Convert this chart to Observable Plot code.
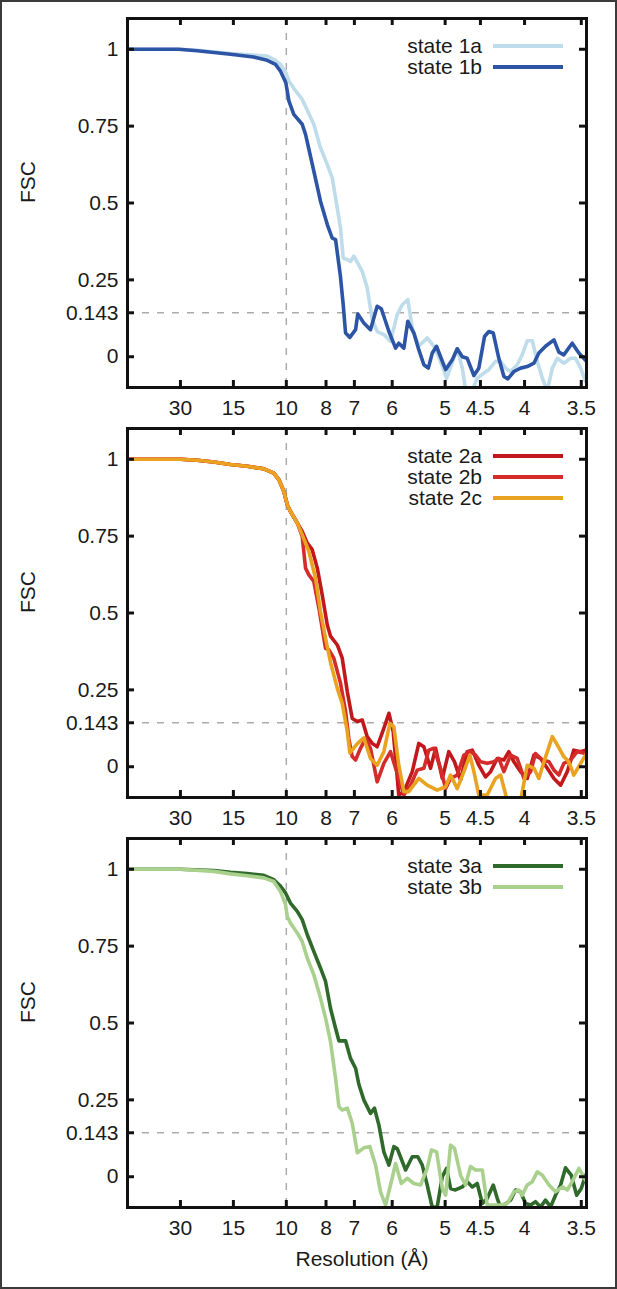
<!DOCTYPE html>
<html>
<head>
<meta charset="utf-8">
<script src="https://cdn.jsdelivr.net/npm/d3@7"></script>
<script src="https://cdn.jsdelivr.net/npm/@observablehq/plot@0.6"></script>
<style>
  html, body { margin: 0; padding: 0; background: #fff; }
  #root { position: relative; width: 617px; height: 1289px; overflow: hidden; background: #fff; font-family: "Liberation Sans", Arial, sans-serif; }
  #border { position: absolute; left: 0; top: 0; width: 617px; height: 1289px; box-sizing: border-box; border: 2px solid #3a3a3a; pointer-events: none; }
  .panel { position: relative; width: 617px; }
  .panel svg { display: block; overflow: visible !important; }
</style>
</head>
<body>
<div id="root"><div id="border"></div></div>
<script>
// ---- data: [spatial frequency (1/Å), FSC] ----
const state1a = [[0,1.0],[0.0334,1.0],[0.0439,0.997],[0.0649,0.986],[0.0793,0.981],[0.0880,0.978],[0.0932,0.964],[0.0963,0.951],[0.0997,0.924],[0.1016,0.897],[0.1047,0.873],[0.1100,0.837],[0.1173,0.756],[0.1215,0.680],[0.1258,0.625],[0.1289,0.582],[0.1310,0.517],[0.1341,0.419],[0.1358,0.321],[0.1384,0.316],[0.1404,0.310],[0.1425,0.327],[0.1478,0.278],[0.1509,0.224],[0.1541,0.121],[0.1572,0.082],[0.1614,0.072],[0.1656,0.050],[0.1698,0.137],[0.1730,0.169],[0.1765,0.186],[0.1793,0.093],[0.1834,0.034],[0.1887,0.061],[0.1929,0.034],[0.1971,-0.015],[0.2009,-0.070],[0.2051,-0.010],[0.2076,0.026],[0.2108,-0.037],[0.2128,-0.105],[0.2171,-0.110],[0.2202,-0.070],[0.2244,-0.053],[0.2275,-0.042],[0.2317,-0.015],[0.2349,-0.015],[0.2380,-0.037],[0.2412,-0.048],[0.2454,-0.026],[0.2485,0.006],[0.2517,0.052],[0.2549,0.052],[0.2580,-0.015],[0.2612,-0.070],[0.2643,-0.110],[0.2675,-0.037],[0.2706,-0.005],[0.2747,-0.021],[0.2790,-0.005],[0.2821,-0.005],[0.2853,-0.037],[0.2884,-0.080]];

const state1b = [[0,1.0],[0.0321,1.0],[0.0439,0.995],[0.0649,0.984],[0.0793,0.975],[0.0880,0.964],[0.0932,0.951],[0.0963,0.929],[0.0997,0.891],[0.1016,0.832],[0.1047,0.788],[0.1100,0.756],[0.1121,0.723],[0.1173,0.604],[0.1215,0.506],[0.1258,0.430],[0.1289,0.386],[0.1310,0.381],[0.1341,0.260],[0.1358,0.170],[0.1373,0.077],[0.1400,0.063],[0.1436,0.088],[0.1450,0.139],[0.1488,0.110],[0.1530,0.088],[0.1572,0.164],[0.1598,0.156],[0.1646,0.082],[0.1688,0.028],[0.1708,0.044],[0.1740,0.028],[0.1765,0.115],[0.1803,0.077],[0.1834,0.023],[0.1866,-0.026],[0.1894,-0.037],[0.1919,0.012],[0.1946,0.034],[0.1971,0.000],[0.2003,-0.042],[0.2045,-0.010],[0.2076,0.026],[0.2108,0.000],[0.2139,-0.005],[0.2181,-0.061],[0.2212,-0.037],[0.2248,0.066],[0.2275,0.082],[0.2303,0.077],[0.2338,-0.005],[0.2370,-0.064],[0.2395,-0.072],[0.2433,-0.048],[0.2475,-0.037],[0.2517,-0.032],[0.2559,-0.021],[0.2590,0.012],[0.2632,0.034],[0.2685,0.055],[0.2716,0.015],[0.2747,0.006],[0.2800,0.044],[0.2842,0.012],[0.2890,-0.015]];

const state2a = [[0,1.0],[0.0334,1.0],[0.0439,0.997],[0.0543,0.991],[0.0649,0.983],[0.0754,0.977],[0.0858,0.969],[0.0921,0.955],[0.0953,0.934],[0.0984,0.896],[0.1006,0.852],[0.1026,0.830],[0.1069,0.793],[0.1100,0.765],[0.1132,0.727],[0.1163,0.706],[0.1195,0.646],[0.1226,0.559],[0.1258,0.461],[0.1278,0.425],[0.1321,0.396],[0.1352,0.353],[0.1384,0.244],[0.1415,0.157],[0.1447,0.147],[0.1478,0.152],[0.1509,0.098],[0.1541,0.076],[0.1572,0.065],[0.1614,0.125],[0.1646,0.174],[0.1673,0.114],[0.1708,-0.092],[0.1740,-0.081],[0.1793,-0.016],[0.1834,0.076],[0.1866,0.065],[0.1908,-0.005],[0.1940,0.060],[0.1982,-0.038],[0.2023,0.049],[0.2059,0.016],[0.2097,-0.043],[0.2139,0.049],[0.2171,0.054],[0.2212,0.005],[0.2254,-0.033],[0.2286,-0.016],[0.2328,0.027],[0.2370,0.022],[0.2401,0.049],[0.2433,0.016],[0.2475,-0.016],[0.2517,-0.038],[0.2559,0.038],[0.2601,0.027],[0.2643,-0.005],[0.2685,-0.038],[0.2727,-0.060],[0.2769,-0.016],[0.2810,0.054],[0.2853,0.049],[0.2884,0.054]];

const state2b = [[0,1.0],[0.0334,1.0],[0.0439,0.997],[0.0543,0.991],[0.0649,0.983],[0.0754,0.977],[0.0858,0.969],[0.0921,0.955],[0.0953,0.934],[0.0984,0.896],[0.1006,0.852],[0.1026,0.830],[0.1069,0.793],[0.1100,0.749],[0.1121,0.646],[0.1142,0.624],[0.1173,0.603],[0.1205,0.516],[0.1247,0.385],[0.1268,0.380],[0.1299,0.353],[0.1341,0.272],[0.1373,0.180],[0.1394,0.090],[0.1415,0.033],[0.1436,0.022],[0.1467,0.060],[0.1499,0.092],[0.1530,0.060],[0.1572,-0.049],[0.1614,0.011],[0.1656,0.049],[0.1688,-0.005],[0.1740,-0.092],[0.1782,-0.060],[0.1824,-0.011],[0.1866,-0.005],[0.1897,0.054],[0.1929,0.060],[0.1971,-0.005],[0.2003,-0.071],[0.2034,-0.038],[0.2076,-0.027],[0.2118,0.038],[0.2160,0.049],[0.2191,0.038],[0.2223,0.016],[0.2265,0.011],[0.2307,0.016],[0.2338,0.027],[0.2370,-0.016],[0.2412,0.038],[0.2454,0.027],[0.2496,-0.038],[0.2538,-0.016],[0.2569,0.043],[0.2612,0.022],[0.2654,0.016],[0.2685,-0.011],[0.2716,-0.027],[0.2747,0.011],[0.2790,0.022],[0.2832,0.049],[0.2884,0.043]];

const state2c = [[0,1.0],[0.0334,1.0],[0.0439,0.997],[0.0543,0.991],[0.0649,0.983],[0.0754,0.977],[0.0858,0.969],[0.0921,0.955],[0.0953,0.934],[0.0984,0.896],[0.1006,0.852],[0.1026,0.830],[0.1069,0.793],[0.1100,0.755],[0.1142,0.700],[0.1184,0.613],[0.1215,0.505],[0.1247,0.418],[0.1278,0.340],[0.1321,0.255],[0.1352,0.206],[0.1384,0.114],[0.1400,0.045],[0.1447,0.075],[0.1488,0.094],[0.1530,0.027],[0.1572,0.005],[0.1614,0.049],[0.1652,0.141],[0.1677,0.130],[0.1708,0.005],[0.1740,-0.081],[0.1771,-0.081],[0.1834,-0.038],[0.1887,-0.060],[0.1950,-0.076],[0.2003,-0.065],[0.2034,-0.027],[0.2076,-0.071],[0.2118,-0.016],[0.2156,0.038],[0.2181,-0.016],[0.2212,-0.092],[0.2265,-0.092],[0.2317,-0.038],[0.2349,-0.027],[0.2391,-0.110],[0.2475,-0.110],[0.2517,0.005],[0.2559,-0.005],[0.2590,-0.038],[0.2622,0.016],[0.2675,0.098],[0.2706,0.071],[0.2747,0.033],[0.2779,0.016],[0.2810,-0.027],[0.2853,0.011],[0.2884,0.038]];

const state3a = [[0,1.0],[0.0334,1.0],[0.0543,0.996],[0.0649,0.990],[0.0754,0.986],[0.0858,0.980],[0.0921,0.966],[0.0963,0.945],[0.0995,0.923],[0.1026,0.890],[0.1069,0.863],[0.1100,0.836],[0.1132,0.787],[0.1173,0.733],[0.1215,0.679],[0.1247,0.635],[0.1278,0.548],[0.1310,0.483],[0.1331,0.442],[0.1373,0.442],[0.1404,0.385],[0.1436,0.353],[0.1457,0.300],[0.1488,0.250],[0.1530,0.206],[0.1555,0.223],[0.1583,0.168],[0.1614,0.081],[0.1646,0.038],[0.1677,0.098],[0.1698,0.092],[0.1751,0.022],[0.1793,0.065],[0.1828,0.065],[0.1856,0.038],[0.1887,-0.027],[0.1919,-0.100],[0.1950,-0.098],[0.1982,0.000],[0.2009,0.027],[0.2034,-0.038],[0.2065,-0.043],[0.2108,-0.033],[0.2139,-0.016],[0.2171,-0.033],[0.2202,-0.022],[0.2234,-0.087],[0.2265,-0.070],[0.2303,-0.027],[0.2328,-0.070],[0.2349,-0.100],[0.2412,-0.076],[0.2443,-0.043],[0.2475,-0.049],[0.2506,-0.087],[0.2538,-0.092],[0.2569,-0.081],[0.2601,-0.098],[0.2632,-0.076],[0.2664,-0.098],[0.2695,-0.060],[0.2727,-0.027],[0.2758,0.029],[0.2794,0.005],[0.2828,-0.060],[0.2857,-0.038],[0.2884,0.005]];

const state3b = [[0,1.0],[0.0334,1.0],[0.0543,0.993],[0.0649,0.985],[0.0754,0.979],[0.0858,0.972],[0.0921,0.960],[0.0963,0.928],[0.0995,0.885],[0.1006,0.847],[0.1026,0.825],[0.1069,0.793],[0.1100,0.765],[0.1132,0.711],[0.1173,0.657],[0.1215,0.581],[0.1247,0.516],[0.1278,0.440],[0.1310,0.320],[0.1331,0.228],[0.1352,0.217],[0.1384,0.223],[0.1415,0.174],[0.1447,0.078],[0.1488,0.094],[0.1526,0.098],[0.1562,0.038],[0.1593,-0.049],[0.1625,-0.092],[0.1656,-0.027],[0.1688,0.043],[0.1724,-0.022],[0.1761,-0.005],[0.1803,-0.022],[0.1845,-0.027],[0.1887,0.027],[0.1914,0.087],[0.1946,0.081],[0.1982,-0.038],[0.2003,-0.060],[0.2034,0.103],[0.2059,0.092],[0.2097,0.005],[0.2128,-0.027],[0.2160,0.033],[0.2191,0.022],[0.2234,0.022],[0.2265,-0.092],[0.2307,-0.092],[0.2349,-0.092],[0.2391,-0.087],[0.2433,-0.049],[0.2464,-0.043],[0.2485,-0.060],[0.2517,-0.027],[0.2549,-0.016],[0.2580,0.016],[0.2612,0.005],[0.2654,-0.027],[0.2695,-0.049],[0.2738,-0.033],[0.2769,-0.043],[0.2800,-0.016],[0.2842,0.027],[0.2884,-0.011]];

// ---- axes ----
const xTickRes = [30, 15, 10, 8, 7, 6, 5, 4.5, 4, 3.5];
const yTicks = [0, 0.143, 0.25, 0.5, 0.75, 1];
const yTickLabels = ["0", "0.143", "0.25", "0.5", "0.75", "1"];
const refResolution = 10;     // dashed vertical line (Å)
const refFsc = 0.143;         // dashed horizontal line

const panels = [
  {names: ["state 1a", "state 1b"], series: [state1a, state1b], colors: ["#bedcea", "#2c55a6"]},
  {names: ["state 2a", "state 2b", "state 2c"], series: [state2a, state2b, state2c], colors: ["#c2181c", "#d42b2b", "#e9a321"]},
  {names: ["state 3a", "state 3b"], series: [state3a, state3b], colors: ["#2f6a2b", "#a9d18d"]}
];

// ---- layout ----
const W = 617, H = 410, HLast = 469;
const mL = 127, mR = 31, mT = 18, mB = 23;
const xDom = [0, 0.289], yDom = [-0.1, 1.1];
const font = "'Liberation Sans', Arial, Helvetica, sans-serif";
const innerW = W - mL - mR, innerH = H - mT - mB;
const tickPx = 7;
const dY = tickPx * (yDom[1] - yDom[0]) / innerH;
const dX = tickPx * (xDom[1] - xDom[0]) / innerW;
const xTickFreq = xTickRes.map(r => 1 / r);
const xLab = new Map(xTickFreq.map((f, i) => [f, String(xTickRes[i])]));
const yLab = new Map(yTicks.map((v, i) => [v, yTickLabels[i]]));

const root = document.getElementById("root");
const border = document.getElementById("border");

panels.forEach((p, pi) => {
  const last = pi === panels.length - 1;
  const h = last ? HLast : H;
  const marks = [
    Plot.ruleX([1 / refResolution], {stroke: "#ababab", strokeWidth: 1.5, strokeDasharray: "7,8"}),
    Plot.ruleY([refFsc], {stroke: "#ababab", strokeWidth: 1.5, strokeDasharray: "7,8"}),
    ...p.series.map((s, i) => Plot.line(s, {x: d => d[0], y: d => d[1], stroke: p.colors[i], strokeWidth: 3.6, clip: true})),
    Plot.ruleX(xTickFreq, {x: d => d, y1: yDom[0], y2: yDom[0] + dY, stroke: "#111", strokeWidth: 3}),
    Plot.ruleX(xTickFreq, {x: d => d, y1: yDom[1] - dY, y2: yDom[1], stroke: "#111", strokeWidth: 3}),
    Plot.ruleY(yTicks, {y: d => d, x1: xDom[0], x2: xDom[0] + dX, stroke: "#111", strokeWidth: 3}),
    Plot.ruleY(yTicks, {y: d => d, x1: xDom[1] - dX, x2: xDom[1], stroke: "#111", strokeWidth: 3}),
    Plot.frame({stroke: "#111", strokeWidth: 3}),
    Plot.axisX(xTickFreq, {tickSize: 0, tickPadding: 13, tickFormat: d => xLab.get(d), label: null, fontSize: 21, fill: "#1a1a1a"}),
    Plot.axisY(yTicks, {tickSize: 0, tickPadding: 9, tickFormat: d => yLab.get(d), label: null, fontSize: 21, fill: "#1a1a1a"}),
    Plot.text(["FSC"], {text: d => d, frameAnchor: "left", dx: -99, rotate: -90, fontSize: 21, fill: "#1a1a1a"})
  ];
  if (last) {
    marks.push(Plot.text(["Resolution (Å)"], {text: d => d, frameAnchor: "bottom", dx: 5, dy: 58, fontSize: 21, fill: "#1a1a1a"}));
  }
  const chart = Plot.plot({
    width: W, height: h,
    marginLeft: mL, marginRight: mR, marginTop: mT, marginBottom: last ? HLast - H + mB : mB,
    x: {domain: xDom}, y: {domain: yDom},
    style: {fontFamily: font, fontSize: "21px", background: "transparent", color: "#1a1a1a", overflow: "visible"},
    marks
  });
  const wrap = document.createElement("div");
  wrap.className = "panel";
  wrap.style.height = h + "px";
  wrap.appendChild(chart);
  // legend
  p.names.forEach((n, i) => {
    const cy = 46 + i * 21;
    const lab = document.createElement("div");
    lab.textContent = n;
    lab.style.cssText = `position:absolute;right:${W - 482}px;top:${cy - 11}px;font:21px ${font};line-height:22px;color:#1a1a1a;white-space:nowrap;`;
    const sw = document.createElement("div");
    sw.style.cssText = `position:absolute;left:493px;top:${cy - 2}px;width:70px;height:4px;background:${p.colors[i]};`;
    wrap.appendChild(lab);
    wrap.appendChild(sw);
  });
  root.insertBefore(wrap, border);
});
</script>
</body>
</html>
